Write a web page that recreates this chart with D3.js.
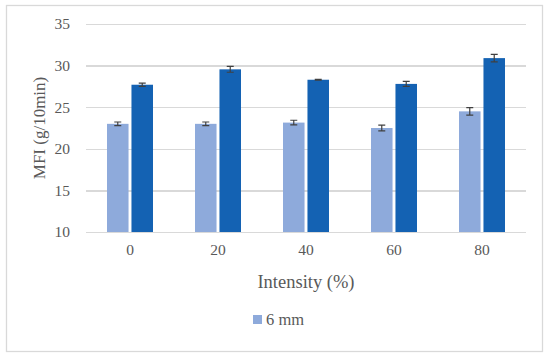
<html>
  <head>
    <meta charset="utf-8">
    <title>MFI</title>
  </head>
  <style>
    body { margin: 0; background: #ffffff; }
    text { font-family: "Palatino Linotype", "Book Antiqua", "Liberation Serif", serif; fill: #595959; }
    .grid line { stroke: #d9d9d9; stroke-width: 1.3px; shape-rendering: crispEdges; }
    .grid path { display: none; }
    .axis path, .axis line { display: none; }
    .err { stroke: #404040; stroke-width: 1.2px; fill: none; }
  </style>
  <body>
    <div id="chart"></div>
    <script src="https://d3js.org/d3.v7.min.js" charset="utf-8"></script>
    <script>

      // intensity categories
      var categories = ["0", "20", "40", "60", "80"];
      var seriesNames = ["6 mm", "other"];

      // MFI values
      var mfiLight   = [23.0, 23.0, 23.15, 22.5, 24.5];
      var mfiDark    = [27.7, 29.55, 28.3, 27.8, 30.9];
      var errLight   = [0.22, 0.22, 0.28, 0.35, 0.45];
      var errDark    = [0.2, 0.35, 0.05, 0.3, 0.45];
      var yTicks     = [10, 15, 20, 25, 30, 35];

      var colors = ["#8eaadb", "#1462b3"];

      var outerWidth  = 550,
          outerHeight = 359,
          margin      = { top: 24, right: 24, bottom: 127, left: 86 },
          width       = outerWidth - margin.left - margin.right,
          height      = outerHeight - margin.top - margin.bottom;

      var data = categories.map(function(c, i) {
        return [
          { cat: c, s: 0, v: mfiLight[i], e: errLight[i] },
          { cat: c, s: 1, v: mfiDark[i],  e: errDark[i] }
        ];
      });

      var svg = d3.select("#chart").append("svg")
                  .attr("width", outerWidth)
                  .attr("height", outerHeight);

      // outer frame
      svg.append("rect")
         .attr("x", 6.5).attr("y", 5.5)
         .attr("width", 536).attr("height", 346)
         .attr("fill", "none")
         .attr("stroke", "#d9d9d9")
         .attr("stroke-width", 1.3);

      var g = svg.append("g")
                 .attr("transform", "translate(" + margin.left + "," + margin.top + ")");

      var x = d3.scaleBand().domain(categories).range([0, width]);
      var xs = d3.scaleBand().domain([0, 1]).range([21, 67]).paddingInner(0.12);
      var y = d3.scaleLinear().domain([10, 35]).range([height, 0]);

      // gridlines
      g.append("g")
       .attr("class", "grid")
       .call(d3.axisLeft(y).tickValues(yTicks).tickSize(-width).tickFormat(""));

      // y tick labels
      var yAxis = g.append("g")
                   .attr("class", "axis")
                   .call(d3.axisLeft(y).tickValues(yTicks).tickSize(0).tickPadding(16));
      yAxis.selectAll("text").style("font-size", "15.5px");

      // x tick labels
      var xAxis = g.append("g")
                   .attr("class", "axis")
                   .attr("transform", "translate(0," + height + ")")
                   .call(d3.axisBottom(x).tickSize(0).tickPadding(12));
      xAxis.selectAll("text").style("font-size", "15.5px");

      // bars
      var groups = g.selectAll(".cat")
                    .data(data)
                    .enter().append("g")
                    .attr("transform", function(d) { return "translate(" + x(d[0].cat) + ",0)"; });

      groups.selectAll("rect")
            .data(function(d) { return d; })
            .enter().append("rect")
            .attr("x", function(d) { return xs(d.s); })
            .attr("width", xs.bandwidth())
            .attr("y", function(d) { return y(d.v); })
            .attr("height", function(d) { return height - y(d.v); })
            .attr("fill", function(d) { return colors[d.s]; });

      // error bars
      var capW = 3.5;
      groups.selectAll("path.err")
            .data(function(d) { return d; })
            .enter().append("path")
            .attr("class", "err")
            .attr("d", function(d) {
              var cx = xs(d.s) + xs.bandwidth() / 2,
                  y1 = y(d.v + d.e), y2 = y(d.v - d.e);
              return "M" + (cx - capW) + "," + y1 + "H" + (cx + capW) +
                     "M" + cx + "," + y1 + "V" + y2 +
                     "M" + (cx - capW) + "," + y2 + "H" + (cx + capW);
            });

      // axis titles
      g.append("text")
       .attr("x", width / 2)
       .attr("y", height + 56)
       .style("text-anchor", "middle")
       .style("font-size", "18.5px")
       .text("Intensity (%)");

      g.append("text")
       .attr("transform", "rotate(-90)")
       .attr("x", -height / 2)
       .attr("y", -41)
       .style("text-anchor", "middle")
       .style("font-size", "17px")
       .text("MFI (g/10min)");

      // legend (only the first series shows in the picture)
      var legend = svg.append("g").attr("transform", "translate(253,315)");
      legend.append("rect")
            .attr("width", 9).attr("height", 9)
            .attr("fill", colors[0]);
      legend.append("text")
            .attr("x", 13).attr("y", 9.5)
            .style("font-size", "16.5px")
            .text(seriesNames[0]);

    </script>
  </body>
</html>
